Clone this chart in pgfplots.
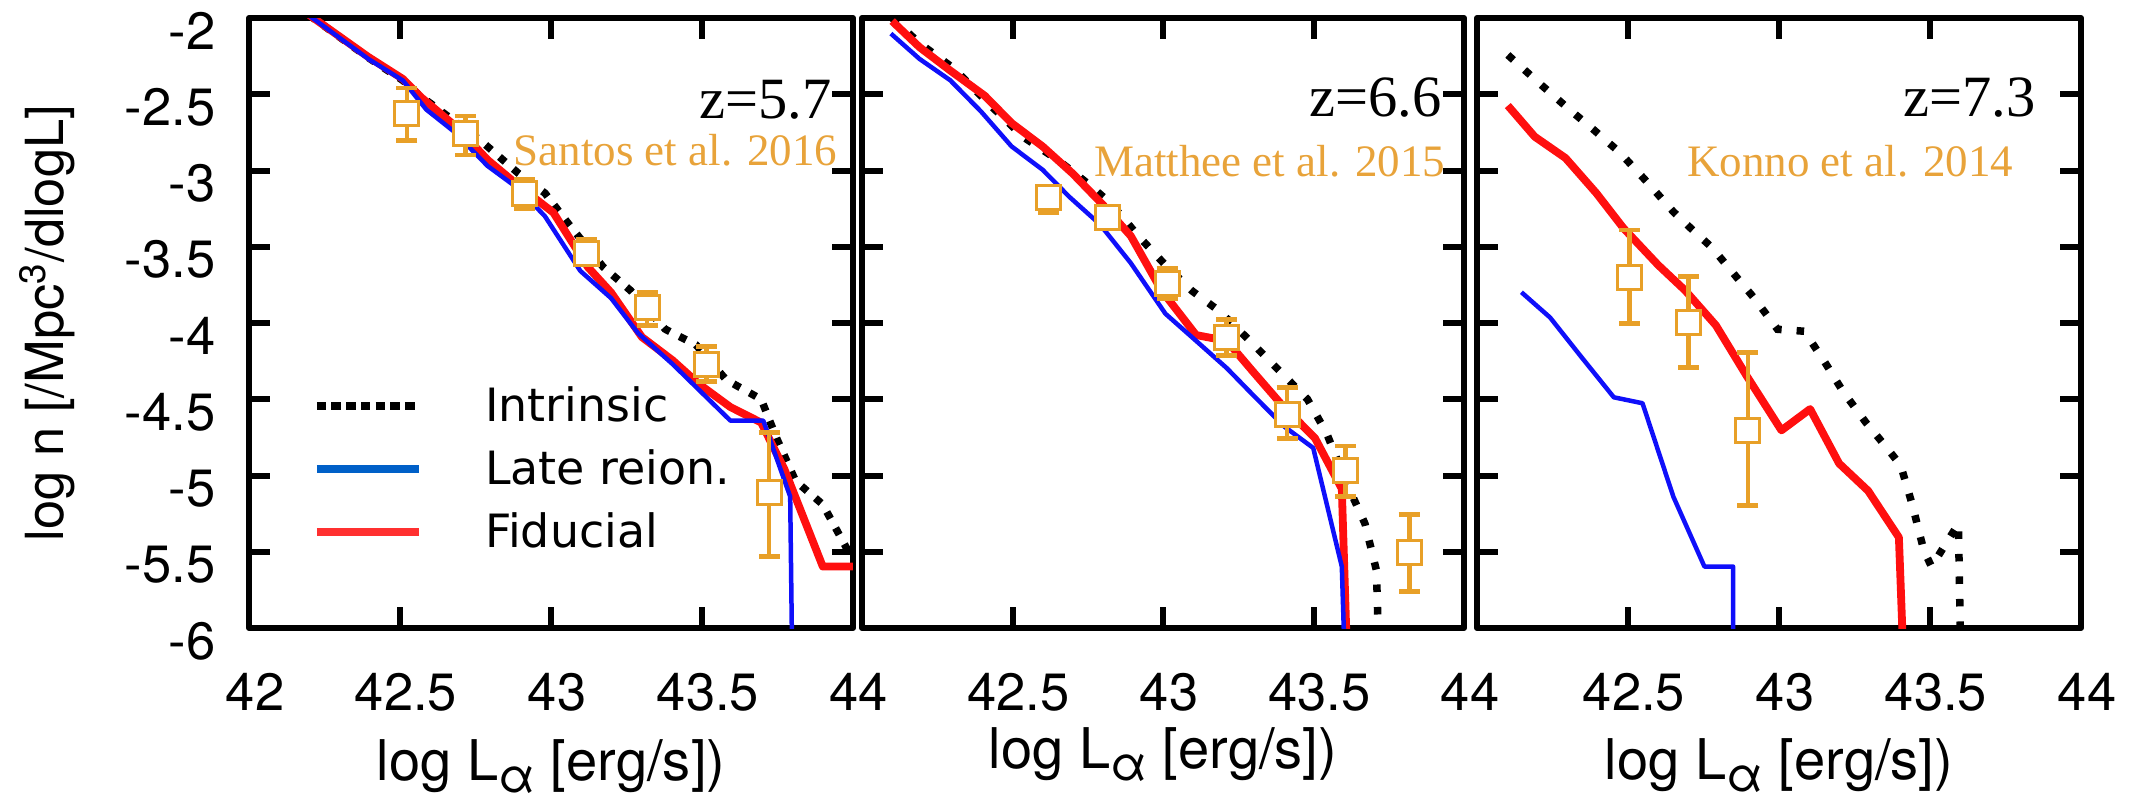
\documentclass[border=0pt]{standalone}
\usepackage{pgfplots}
\pgfplotsset{compat=1.18}
\usepackage{fontspec}
\setmainfont{TeX Gyre Heros}
\newfontfamily\seriffont{Liberation Serif}
\newfontfamily\legfont{DejaVu Sans}
\definecolor{dorange}{RGB}{232,160,40}
\definecolor{torange}{RGB}{232,163,58}
\definecolor{pred}{RGB}{255,15,15}
\definecolor{pblue}{RGB}{15,15,250}
\definecolor{lblue}{RGB}{0,96,200}
\definecolor{lred}{RGB}{255,48,48}

\pgfplotsset{
 panel/.style={
   scale only axis, width=201.33pt, height=203.33pt,
   anchor=south west,
   xmin=42, xmax=44, ymin=-6, ymax=-2,
   xtick={42,42.5,43,43.5,44},
   ytick={-6,-5.5,-5,-4.5,-4,-3.5,-3,-2.5,-2},
   tick align=inside,
   major tick length=7pt,
   tick style={line width=2pt, black},
   axis line style={line width=2pt, line join=round},
   tick label style={font=\fontsize{17.5}{20}\selectfont},
   xticklabel style={anchor=center, inner sep=0pt, yshift=-21.3pt, xshift=2pt},
   yticklabel style={anchor=east, inner sep=0pt, xshift=-11pt, yshift=-4.3pt},
   xlabel={log L\raisebox{-0.22em}{\fontsize{16}{16}\selectfont α} [erg/s])},
   xlabel style={font=\fontsize{18.7}{22}\selectfont, anchor=base, inner sep=0pt},
 },
 red line/.style={pred, line width=2.6pt, line join=round},
 blue line/.style={pblue, line width=1.5pt, line join=round},
 intr line/.style={black, line width=2.5pt, dash pattern=on 2.5pt off #1},
 errpts/.style={only marks, mark=none,
   error bars/y dir=both, error bars/y explicit,
   error bars/error bar style={dorange, line width=1.6pt},
   error bars/error mark options={dorange, line width=1.6pt, mark size=3.5pt, rotate=90}},
 sqpts/.style={only marks, mark=square*, mark size=4pt,
   mark options={fill=white, draw=dorange, line width=1pt, solid}},
}
\tikzset{
 ztext/.style={anchor=base east, inner sep=0pt, font=\seriffont\fontsize{19.5}{22}\selectfont},
 reftext/.style={anchor=base east, inner sep=0pt, text=torange, font=\seriffont\fontsize{15}{18}\selectfont},
}

% observational points: x y err+ err-
\pgfplotstableread{
x y ep em
42.523 -2.625 0.166 0.179
42.717 -2.760 0.117 0.138
42.912 -3.153 0.094 0.097
43.116 -3.543 0.089 0.064
43.318 -3.900 0.102 0.115
43.515 -4.270 0.114 0.115
43.722 -5.112 0.395 0.421
}\santos
\pgfplotstableread{
x y ep em
42.621 -3.179 0.070 0.097
42.816 -3.309 0.060 0.060
43.014 -3.742 0.097 0.095
43.212 -4.097 0.120 0.117
43.412 -4.602 0.179 0.153
43.607 -4.967 0.161 0.171
43.818 -5.503 0.250 0.260
}\matthee
\pgfplotstableread{
x y ep em
42.504 -3.704 0.314 0.299
42.699 -3.995 0.299 0.296
42.897 -4.704 0.510 0.490
}\konno

\begin{document}
\begin{tikzpicture}
\path[use as bounding box] (0,0) rectangle (711.33pt,267.67pt);

% ---------------- Panel 1: z=5.7 ----------------
\begin{axis}[panel, at={(83pt,58.33pt)},
  xticklabels={42,42.5,43,43.5,44},
  yticklabels={-6,-5.5,-5,-4.5,-4,-3.5,-3,-2.5,-2},
  xlabel style={at={(axis description cs:0.5,-0.250)}},
  ylabel={log n [/Mpc\textsuperscript{3}/dlogL]},
  ylabel style={at={(axis description cs:-0.3065,0.5)}, anchor=base, inner sep=0pt, font=\fontsize{17.5}{20}\selectfont},
  legend style={at={(axis description cs:0.1043,0.2607)}, anchor=west, draw=none, fill=none,
    inner xsep=0pt, inner ysep=0pt, row sep=3.9pt, column sep=18.7pt,
    font=\legfont\fontsize{15.3}{18}\selectfont},
  legend cell align=left,
  legend image code/.code={\draw[#1] (0pt,0pt) -- (34pt,0pt);},
]
\addplot[intr line=3.6pt, forget plot] coordinates {
(42.10,-1.84) (42.395,-2.26) (42.51,-2.41) (42.56,-2.50) (42.765,-2.80) (42.893,-3.02)
(42.98,-3.148) (43.059,-3.352) (43.173,-3.633) (43.263,-3.786) (43.378,-4.04) (43.48,-4.143)
(43.58,-4.372) (43.696,-4.50) (43.747,-4.755) (43.81,-5.036) (43.90,-5.19) (43.977,-5.47) (44.02,-5.6)};
\addplot[red line, forget plot] coordinates {
(42.10,-1.84) (42.395,-2.255) (42.51,-2.40) (42.57,-2.52) (42.69,-2.72) (42.79,-2.93)
(42.893,-3.10) (43.008,-3.276) (43.122,-3.633) (43.199,-3.80) (43.301,-4.092) (43.403,-4.245)
(43.49,-4.40) (43.594,-4.551) (43.696,-4.653) (43.773,-4.959) (43.90,-5.597) (44.05,-5.597)};
\addplot[blue line, forget plot] coordinates {
(42.10,-1.84) (42.395,-2.268) (42.51,-2.41) (42.587,-2.60) (42.676,-2.74) (42.79,-2.97)
(42.893,-3.12) (42.98,-3.30) (43.097,-3.658) (43.199,-3.837) (43.288,-4.066) (43.403,-4.27)
(43.594,-4.64) (43.703,-4.64) (43.792,-5.138) (43.798,-6.1)};
\addplot[errpts, forget plot] table[x=x, y=y, y error plus=ep, y error minus=em] {\santos};
\addplot[sqpts, forget plot] table[x=x, y=y] {\santos};
\addlegendimage{black, line width=2.8pt, dash pattern=on 3.2pt off 1.7pt}
\addlegendentry{Intrinsic}
\addlegendimage{lblue, line width=2.8pt}
\addlegendentry{Late reion.}
\addlegendimage{lred, line width=2.8pt}
\addlegendentry{Fiducial}
\node[ztext] at (axis description cs:0.9652,0.836) {z=5.7};
\node[reftext] at (axis description cs:0.9752,0.759) {Santos et al. 2016};
\end{axis}

% ---------------- Panel 2: z=6.6 ----------------
\begin{axis}[panel, at={(287.33pt,58.33pt)}, width=200.67pt,
  xticklabels={,42.5,43,43.5,44},
  yticklabels={,,,,,,,,},
  xlabel style={at={(axis description cs:0.5,-0.2295)}},
]
\addplot[intr line=5pt] coordinates {
(42.10,-2.0) (42.191,-2.165) (42.306,-2.332) (42.42,-2.56) (42.536,-2.78) (42.65,-2.93)
(42.753,-3.09) (42.829,-3.22) (42.918,-3.429) (43.008,-3.62) (43.097,-3.79) (43.186,-3.92)
(43.276,-4.092) (43.378,-4.296) (43.48,-4.5) (43.543,-4.72) (43.607,-5.036) (43.671,-5.316)
(43.709,-5.622) (43.716,-6.1)};
\addplot[red line] coordinates {
(42.10,-2.02) (42.191,-2.191) (42.293,-2.344) (42.408,-2.51) (42.497,-2.689) (42.60,-2.842)
(42.70,-3.02) (42.80,-3.224) (42.893,-3.429) (42.995,-3.786) (43.11,-4.079) (43.212,-4.117)
(43.30,-4.321) (43.39,-4.526) (43.505,-4.755) (43.594,-5.087) (43.61,-6.1)};
\addplot[blue line] coordinates {
(42.096,-2.102) (42.191,-2.268) (42.293,-2.408) (42.395,-2.612) (42.497,-2.842) (42.60,-2.995)
(42.689,-3.173) (42.79,-3.352) (42.893,-3.607) (43.008,-3.939) (43.11,-4.117) (43.212,-4.296)
(43.30,-4.474) (43.403,-4.679) (43.499,-4.819) (43.594,-5.597) (43.602,-6.1)};
\addplot[errpts] table[x=x, y=y, y error plus=ep, y error minus=em] {\matthee};
\addplot[sqpts] table[x=x, y=y] {\matthee};
\node[ztext] at (axis description cs:0.9635,0.838) {z=6.6};
\node[reftext] at (axis description cs:0.970,0.741) {Matthee et al. 2015};
\end{axis}

% ---------------- Panel 3: z=7.3 ----------------
\begin{axis}[panel, at={(492.33pt,58.33pt)},
  xticklabels={,42.5,43,43.5,44},
  yticklabels={,,,,,,,,},
  xlabel style={at={(axis description cs:0.5,-0.248)}},
]
\addplot[intr line=5pt] coordinates {
(42.102,-2.242) (42.217,-2.446) (42.306,-2.60) (42.383,-2.727) (42.472,-2.88) (42.561,-3.071)
(42.65,-3.27) (42.714,-3.39) (42.778,-3.505) (42.842,-3.658) (42.918,-3.837) (42.995,-4.041)
(43.084,-4.054) (43.148,-4.245) (43.212,-4.449) (43.288,-4.653) (43.352,-4.806) (43.403,-4.934)
(43.441,-5.189) (43.48,-5.495) (43.505,-5.597) (43.594,-5.316) (43.601,-6.1)};
\addplot[red line] coordinates {
(42.102,-2.574) (42.191,-2.778) (42.293,-2.918) (42.395,-3.148) (42.485,-3.378) (42.60,-3.62)
(42.689,-3.786) (42.791,-4.015) (42.893,-4.347) (43.008,-4.704) (43.103,-4.564) (43.199,-4.921)
(43.295,-5.10) (43.397,-5.406) (43.41,-6.1)};
\addplot[blue line] coordinates {
(42.147,-3.798) (42.242,-3.964) (42.344,-4.219) (42.453,-4.487) (42.548,-4.526) (42.65,-5.138)
(42.753,-5.597) (42.848,-5.597) (42.848,-6.1)};
\addplot[errpts] table[x=x, y=y, y error plus=ep, y error minus=em] {\konno};
\addplot[sqpts] table[x=x, y=y] {\konno};
\node[ztext] at (axis description cs:0.9255,0.838) {z=7.3};
\node[reftext] at (axis description cs:0.889,0.741) {Konno et al. 2014};
\end{axis}
\end{tikzpicture}
\end{document}
